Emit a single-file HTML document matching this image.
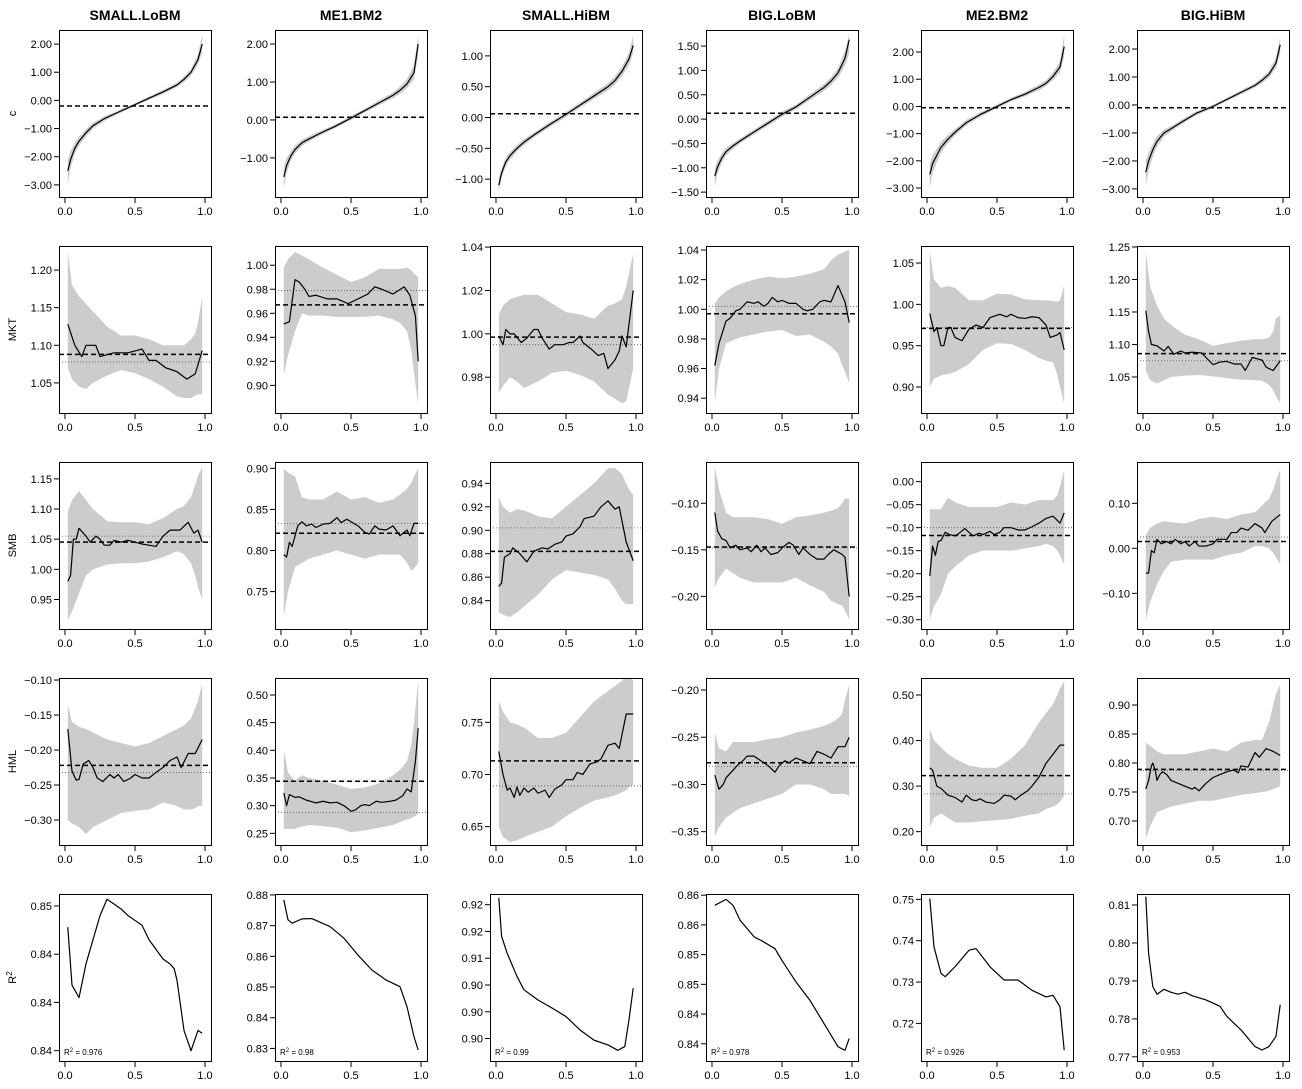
<!DOCTYPE html>
<html><head><meta charset="utf-8"><style>
html,body{margin:0;padding:0;background:#fff;}
svg{display:block;font-family:"Liberation Sans",Arial,sans-serif;}
</style></head><body>
<svg id="chart" width="1302" height="1089" viewBox="0 0 1302 1089"></svg>
<script>
const colNames = ["SMALL.LoBM","ME1.BM2","SMALL.HiBM","BIG.LoBM","ME2.BM2","BIG.HiBM"];
const rowNames = ["c","MKT","SMB","HML","R²"];
const r2Text = ["0.976","0.98","0.99","0.978","0.926","0.953"];

const yDomain = [
 [-3.43,2.50],[-2.03,2.37],[-1.29,1.42],[-1.60,1.83],[-3.33,2.81],[-3.29,2.68],
 [1.010,1.232],[0.877,1.016],[0.9635,1.0405],[0.930,1.0427],[0.8686,1.0706],[0.9946,1.2515],
 [0.901,1.178],[0.7045,0.9077],[0.8158,0.9582],[-0.235,-0.0557],[-0.3202,0.0427],[-0.1793,0.1918],
 [-0.3357,-0.0971],[0.2289,0.5307],[0.6324,0.7925],[-0.3641,-0.1873],[0.1707,0.5373],[0.6586,0.9466],
 [0.83393,0.85124],[0.8259,0.8803],[0.8908,0.922],[0.8321,0.8602],[0.7109,0.7513],[0.7689,0.8129]
];
const yTicks = [
 [2,1,0,-1,-2,-3],[2,1,0,-1],[1,0.5,0,-0.5,-1],[1.5,1,0.5,0,-0.5,-1,-1.5],[2,1,0,-1,-2,-3],[2,1,0,-1,-2,-3],
 [1.20,1.15,1.10,1.05],[1.00,0.98,0.96,0.94,0.92,0.90],[1.04,1.02,1.00,0.98],[1.04,1.02,1.00,0.98,0.96,0.94],[1.05,1.00,0.95,0.90],[1.25,1.20,1.15,1.10,1.05],
 [1.15,1.10,1.05,1.00,0.95],[0.90,0.85,0.80,0.75],[0.94,0.92,0.90,0.88,0.86,0.84],[-0.10,-0.15,-0.20],[0,-0.05,-0.10,-0.15,-0.20,-0.25,-0.30],[0.10,0,-0.10],
 [-0.10,-0.15,-0.20,-0.25,-0.30],[0.50,0.45,0.40,0.35,0.30,0.25],[0.75,0.70,0.65],[-0.20,-0.25,-0.30,-0.35],[0.50,0.40,0.30,0.20],[0.90,0.85,0.80,0.75,0.70],
 [0.85,0.845,0.84,0.835],[0.88,0.87,0.86,0.85,0.84,0.83],[0.92,0.915,0.91,0.905,0.90,0.895],[0.86,0.855,0.85,0.845,0.84,0.835],[0.75,0.74,0.73,0.72],[0.81,0.80,0.79,0.78,0.77]
];
const r2TickLabels = [
 ["0.85","0.84","0.84","0.84"],["0.88","0.87","0.86","0.85","0.84","0.83"],["0.92","0.92","0.91","0.90","0.90","0.90"],
 ["0.86","0.86","0.85","0.85","0.84","0.84"],["0.75","0.74","0.73","0.72"],["0.81","0.80","0.79","0.78","0.77"]
];
const xTicks = [0,0.5,1];
const xTickLabels = ["0.0","0.5","1.0"];

const qX = [0.02,0.04,0.07,0.1,0.15,0.2,0.28,0.38,0.5,0.6,0.7,0.8,0.85,0.9,0.95,0.98];
const bandX = [0.02,0.05,0.1,0.15,0.2,0.3,0.4,0.5,0.6,0.7,0.8,0.85,0.9,0.93,0.95,0.98];

const lineX = [
 qX,qX,qX,qX,qX,qX,
 [0.02,0.07,0.12,0.15,0.22,0.25,0.35,0.45,0.55,0.6,0.65,0.72,0.8,0.87,0.93,0.98],
 [0.02,0.06,0.1,0.13,0.17,0.2,0.25,0.33,0.4,0.48,0.55,0.62,0.67,0.72,0.8,0.88,0.92,0.96,0.98],
 [0.02,0.05,0.07,0.1,0.13,0.18,0.22,0.27,0.3,0.33,0.38,0.42,0.48,0.52,0.55,0.6,0.62,0.68,0.73,0.77,0.8,0.85,0.88,0.9,0.93,0.98],
 [0.02,0.05,0.1,0.13,0.17,0.2,0.25,0.3,0.33,0.37,0.4,0.43,0.47,0.5,0.55,0.6,0.65,0.68,0.72,0.77,0.8,0.85,0.9,0.95,0.98],
 [0.02,0.05,0.07,0.1,0.12,0.15,0.17,0.2,0.25,0.3,0.35,0.4,0.45,0.52,0.57,0.6,0.65,0.7,0.75,0.8,0.85,0.88,0.93,0.95,0.98],
 [0.02,0.04,0.06,0.1,0.15,0.18,0.22,0.27,0.3,0.35,0.42,0.45,0.5,0.55,0.6,0.65,0.7,0.73,0.78,0.85,0.88,0.93,0.98],
 [0.02,0.04,0.06,0.08,0.1,0.15,0.18,0.22,0.25,0.28,0.32,0.35,0.4,0.45,0.5,0.55,0.6,0.65,0.7,0.75,0.82,0.88,0.92,0.95,0.98],
 [0.02,0.04,0.06,0.08,0.12,0.15,0.18,0.22,0.25,0.3,0.35,0.4,0.43,0.47,0.5,0.55,0.6,0.63,0.67,0.7,0.75,0.8,0.85,0.9,0.92,0.95,0.98],
 [0.02,0.04,0.06,0.1,0.12,0.17,0.22,0.27,0.33,0.37,0.42,0.47,0.5,0.55,0.6,0.63,0.7,0.75,0.8,0.85,0.88,0.93,0.98],
 [0.02,0.04,0.07,0.1,0.13,0.17,0.2,0.25,0.28,0.32,0.35,0.38,0.42,0.47,0.5,0.55,0.58,0.62,0.65,0.7,0.75,0.8,0.83,0.87,0.93,0.95,0.98],
 [0.02,0.04,0.06,0.08,0.1,0.13,0.16,0.2,0.23,0.27,0.3,0.33,0.37,0.4,0.45,0.48,0.52,0.55,0.6,0.65,0.7,0.75,0.8,0.85,0.9,0.95,0.98],
 [0.02,0.04,0.06,0.08,0.1,0.13,0.17,0.2,0.23,0.27,0.3,0.33,0.37,0.4,0.45,0.5,0.53,0.6,0.63,0.67,0.7,0.75,0.8,0.85,0.87,0.92,0.98],
 [0.02,0.05,0.08,0.1,0.13,0.17,0.2,0.23,0.27,0.32,0.35,0.38,0.42,0.47,0.5,0.55,0.6,0.65,0.7,0.75,0.8,0.83,0.88,0.93,0.98],
 [0.02,0.04,0.06,0.1,0.13,0.18,0.25,0.3,0.35,0.4,0.45,0.5,0.53,0.57,0.6,0.63,0.68,0.72,0.78,0.82,0.87,0.9,0.93,0.96,0.98],
 [0.02,0.05,0.08,0.1,0.13,0.15,0.17,0.2,0.23,0.27,0.3,0.35,0.38,0.42,0.47,0.5,0.55,0.58,0.62,0.67,0.72,0.75,0.8,0.85,0.88,0.93,0.98],
 [0.02,0.05,0.08,0.1,0.15,0.18,0.22,0.25,0.3,0.35,0.4,0.45,0.48,0.52,0.55,0.6,0.65,0.7,0.75,0.8,0.85,0.9,0.95,0.98],
 [0.02,0.04,0.07,0.1,0.15,0.2,0.25,0.28,0.32,0.35,0.38,0.42,0.48,0.52,0.55,0.6,0.63,0.67,0.72,0.75,0.8,0.85,0.9,0.95,0.98],
 [0.02,0.04,0.06,0.07,0.09,0.1,0.12,0.14,0.17,0.2,0.25,0.3,0.35,0.37,0.4,0.45,0.5,0.55,0.6,0.65,0.68,0.7,0.75,0.8,0.83,0.88,0.93,0.98],
 [0.02,0.05,0.1,0.15,0.2,0.25,0.3,0.35,0.4,0.45,0.5,0.55,0.6,0.65,0.7,0.75,0.78,0.8,0.85,0.9,0.95,0.98],
 [0.02,0.05,0.08,0.15,0.22,0.35,0.45,0.55,0.65,0.75,0.85,0.9,0.95,0.98],
 [0.02,0.04,0.08,0.15,0.2,0.3,0.4,0.5,0.6,0.7,0.8,0.87,0.92,0.95,0.98],
 [0.02,0.1,0.15,0.2,0.3,0.35,0.45,0.5,0.6,0.7,0.8,0.9,0.95,0.98],
 [0.02,0.05,0.1,0.13,0.2,0.3,0.35,0.45,0.55,0.65,0.75,0.85,0.9,0.95,0.98],
 [0.02,0.04,0.07,0.1,0.15,0.2,0.25,0.3,0.35,0.45,0.55,0.6,0.7,0.8,0.85,0.9,0.95,0.98]
];
const lineY = [
 [-2.5,-2.1,-1.7,-1.45,-1.15,-0.9,-0.65,-0.42,-0.15,0.08,0.3,0.55,0.75,1.0,1.45,2.0],
 [-1.5,-1.2,-0.95,-0.78,-0.6,-0.5,-0.35,-0.18,0.05,0.25,0.45,0.65,0.78,0.95,1.25,2.0],
 [-1.1,-0.9,-0.72,-0.62,-0.5,-0.4,-0.27,-0.12,0.05,0.2,0.35,0.5,0.6,0.75,0.95,1.17],
 [-1.17,-0.98,-0.8,-0.67,-0.55,-0.45,-0.3,-0.12,0.1,0.25,0.45,0.65,0.78,0.95,1.25,1.63],
 [-2.5,-2.1,-1.8,-1.5,-1.2,-0.95,-0.6,-0.3,0.0,0.25,0.45,0.7,0.85,1.1,1.45,2.2],
 [-2.4,-2.0,-1.6,-1.3,-1.0,-0.85,-0.6,-0.3,-0.05,0.2,0.45,0.7,0.88,1.1,1.5,2.15],
 [1.128,1.10,1.085,1.10,1.10,1.085,1.09,1.09,1.095,1.08,1.08,1.07,1.065,1.055,1.062,1.093],
 [0.951,0.953,0.988,0.986,0.98,0.974,0.975,0.972,0.972,0.968,0.972,0.976,0.982,0.98,0.976,0.982,0.975,0.958,0.92],
 [0.999,0.995,1.002,1.0,1.0,0.996,0.998,1.002,1.002,0.998,0.993,0.995,0.995,0.996,0.996,0.999,0.996,0.993,0.99,0.991,0.984,0.988,0.992,0.999,0.994,1.02],
 [0.962,0.977,0.992,0.994,0.999,1.0,1.005,1.004,1.005,1.002,1.004,1.008,1.005,1.006,1.004,1.004,1.0,0.999,1.0,1.005,1.006,1.005,1.016,1.005,0.991],
 [0.989,0.967,0.972,0.95,0.95,0.972,0.972,0.96,0.956,0.97,0.975,0.972,0.984,0.988,0.985,0.988,0.984,0.983,0.985,0.984,0.975,0.96,0.963,0.966,0.945],
 [1.152,1.12,1.10,1.098,1.09,1.097,1.085,1.09,1.087,1.088,1.087,1.08,1.069,1.073,1.074,1.07,1.07,1.06,1.08,1.076,1.065,1.06,1.075],
 [0.98,0.99,1.05,1.05,1.068,1.055,1.045,1.055,1.05,1.04,1.04,1.048,1.045,1.048,1.045,1.042,1.04,1.038,1.055,1.065,1.065,1.078,1.06,1.065,1.045],
 [0.795,0.792,0.81,0.805,0.83,0.835,0.83,0.832,0.828,0.832,0.833,0.84,0.834,0.838,0.835,0.83,0.822,0.82,0.83,0.826,0.825,0.83,0.818,0.825,0.818,0.833,0.833],
 [0.852,0.855,0.877,0.88,0.885,0.88,0.873,0.882,0.885,0.884,0.888,0.89,0.895,0.897,0.903,0.91,0.912,0.92,0.925,0.918,0.92,0.89,0.874],
 [-0.11,-0.13,-0.138,-0.14,-0.148,-0.145,-0.15,-0.148,-0.152,-0.145,-0.152,-0.148,-0.155,-0.153,-0.148,-0.142,-0.145,-0.155,-0.148,-0.155,-0.16,-0.16,-0.155,-0.15,-0.155,-0.158,-0.20],
 [-0.205,-0.14,-0.16,-0.13,-0.128,-0.11,-0.115,-0.118,-0.112,-0.102,-0.11,-0.118,-0.112,-0.115,-0.108,-0.115,-0.11,-0.1,-0.1,-0.105,-0.105,-0.098,-0.09,-0.08,-0.075,-0.09,-0.068],
 [-0.055,-0.055,-0.005,-0.01,0.02,0.01,0.015,0.01,0.02,0.01,0.015,0.005,0.015,0.005,0.005,0.01,0.02,0.02,0.035,0.035,0.045,0.04,0.055,0.045,0.035,0.06,0.075],
 [-0.17,-0.23,-0.243,-0.242,-0.22,-0.215,-0.225,-0.24,-0.245,-0.235,-0.24,-0.235,-0.245,-0.24,-0.235,-0.24,-0.24,-0.232,-0.225,-0.215,-0.21,-0.225,-0.205,-0.205,-0.185],
 [0.323,0.30,0.32,0.315,0.316,0.31,0.305,0.308,0.305,0.306,0.30,0.29,0.292,0.30,0.302,0.30,0.308,0.306,0.308,0.31,0.318,0.33,0.325,0.38,0.44],
 [0.722,0.70,0.685,0.687,0.678,0.688,0.68,0.687,0.683,0.687,0.682,0.685,0.678,0.686,0.69,0.695,0.695,0.702,0.70,0.71,0.712,0.715,0.728,0.73,0.725,0.758,0.758],
 [-0.29,-0.305,-0.30,-0.293,-0.285,-0.28,-0.275,-0.27,-0.27,-0.275,-0.28,-0.287,-0.28,-0.275,-0.277,-0.272,-0.275,-0.278,-0.265,-0.268,-0.272,-0.26,-0.26,-0.25],
 [0.34,0.335,0.30,0.295,0.28,0.275,0.265,0.28,0.27,0.268,0.272,0.265,0.262,0.27,0.28,0.278,0.27,0.28,0.29,0.30,0.32,0.35,0.37,0.39,0.39],
 [0.755,0.77,0.795,0.80,0.785,0.77,0.78,0.785,0.78,0.77,0.765,0.76,0.755,0.758,0.752,0.765,0.775,0.78,0.785,0.788,0.783,0.795,0.793,0.818,0.81,0.825,0.82,0.813],
 [0.8478,0.8418,0.8405,0.8440,0.8465,0.8490,0.8507,0.8502,0.8497,0.8490,0.8485,0.8480,0.8465,0.8455,0.8445,0.8440,0.8435,0.8423,0.8371,0.8350,0.8371,0.8368],
 [0.8784,0.8719,0.8708,0.8722,0.8723,0.8697,0.8659,0.8604,0.8555,0.8523,0.8501,0.8436,0.8338,0.8295],
 [0.9213,0.9141,0.9109,0.9066,0.9041,0.9022,0.9007,0.8991,0.8966,0.8947,0.8938,0.8928,0.8935,0.8985,0.9044],
 [0.8583,0.8593,0.8583,0.8558,0.853,0.8524,0.851,0.849,0.8454,0.8423,0.8384,0.8345,0.8339,0.8359],
 [0.7502,0.7385,0.7321,0.7313,0.7337,0.7377,0.7381,0.7337,0.7305,0.7305,0.7280,0.7264,0.7268,0.7240,0.7135],
 [0.8122,0.7973,0.7885,0.7865,0.7878,0.7870,0.7865,0.7870,0.7861,0.7850,0.7833,0.7806,0.7771,0.7727,0.7718,0.7727,0.7754,0.7837]
];
const bandLo = [
 [-3.0,-2.4,-1.9,-1.6,-1.28,-1.0,-0.73,-0.48,-0.2,0.02,0.23,0.47,0.65,0.88,1.28,1.7],
 [-1.8,-1.4,-1.08,-0.88,-0.68,-0.57,-0.41,-0.23,0.0,0.2,0.39,0.57,0.69,0.84,1.08,1.7],
 [-1.2,-0.98,-0.79,-0.68,-0.55,-0.45,-0.31,-0.16,0.01,0.16,0.3,0.44,0.53,0.67,0.85,1.05],
 [-1.38,-1.12,-0.9,-0.75,-0.61,-0.5,-0.35,-0.17,0.05,0.2,0.39,0.58,0.7,0.85,1.1,1.35],
 [-3.0,-2.45,-2.05,-1.7,-1.35,-1.07,-0.7,-0.38,-0.07,0.18,0.37,0.6,0.74,0.97,1.25,1.85],
 [-2.9,-2.35,-1.85,-1.5,-1.13,-0.95,-0.68,-0.37,-0.11,0.14,0.38,0.62,0.78,0.98,1.32,1.85],
 [1.07,1.055,1.045,1.042,1.05,1.06,1.067,1.063,1.055,1.045,1.032,1.03,1.03,1.033,1.035,1.035],
 [0.909,0.925,0.945,0.96,0.958,0.958,0.957,0.957,0.957,0.958,0.955,0.952,0.945,0.93,0.91,0.885],
 [0.973,0.976,0.98,0.978,0.975,0.978,0.982,0.983,0.981,0.978,0.972,0.97,0.968,0.969,0.975,0.984],
 [0.937,0.96,0.977,0.979,0.981,0.983,0.985,0.986,0.982,0.983,0.978,0.975,0.97,0.962,0.958,0.950],
 [0.90,0.91,0.914,0.916,0.918,0.928,0.945,0.953,0.952,0.945,0.935,0.932,0.93,0.915,0.90,0.88],
 [1.06,1.045,1.04,1.045,1.05,1.052,1.053,1.051,1.048,1.046,1.045,1.044,1.038,1.03,1.02,1.01],
 [0.915,0.93,0.96,0.99,1.0,1.008,1.01,1.01,1.013,1.02,1.03,1.025,1.01,0.99,0.97,0.95],
 [0.72,0.75,0.78,0.785,0.79,0.795,0.80,0.795,0.79,0.795,0.795,0.795,0.785,0.775,0.778,0.785],
 [0.83,0.828,0.826,0.83,0.835,0.845,0.858,0.866,0.864,0.862,0.858,0.85,0.84,0.837,0.837,0.837],
 [-0.19,-0.18,-0.17,-0.175,-0.18,-0.185,-0.185,-0.185,-0.18,-0.188,-0.195,-0.205,-0.208,-0.21,-0.215,-0.225],
 [-0.30,-0.27,-0.245,-0.20,-0.185,-0.16,-0.15,-0.15,-0.15,-0.145,-0.14,-0.135,-0.14,-0.15,-0.16,-0.18],
 [-0.16,-0.12,-0.08,-0.05,-0.03,-0.025,-0.025,-0.025,-0.015,-0.01,0.005,0.005,0,-0.01,-0.02,-0.035],
 [-0.30,-0.305,-0.31,-0.32,-0.31,-0.30,-0.29,-0.287,-0.285,-0.275,-0.28,-0.285,-0.285,-0.283,-0.28,-0.28],
 [0.258,0.258,0.258,0.262,0.265,0.263,0.26,0.252,0.255,0.26,0.265,0.27,0.275,0.277,0.28,0.285],
 [0.65,0.64,0.635,0.637,0.64,0.645,0.65,0.66,0.668,0.675,0.678,0.68,0.683,0.685,0.688,0.69],
 [-0.355,-0.345,-0.335,-0.33,-0.325,-0.32,-0.315,-0.31,-0.30,-0.30,-0.305,-0.31,-0.31,-0.31,-0.31,-0.312],
 [0.21,0.23,0.24,0.23,0.22,0.22,0.223,0.225,0.228,0.235,0.24,0.25,0.255,0.26,0.265,0.28],
 [0.67,0.69,0.715,0.72,0.725,0.73,0.735,0.735,0.74,0.745,0.748,0.75,0.752,0.755,0.757,0.76]
];
const bandHi = [
 [-2.1,-1.8,-1.5,-1.3,-1.02,-0.8,-0.57,-0.36,-0.1,0.14,0.37,0.63,0.85,1.12,1.62,2.35],
 [-1.25,-1.0,-0.82,-0.68,-0.52,-0.43,-0.29,-0.13,0.1,0.3,0.51,0.73,0.88,1.08,1.45,2.25],
 [-0.98,-0.82,-0.65,-0.56,-0.45,-0.35,-0.23,-0.08,0.09,0.24,0.4,0.56,0.67,0.83,1.05,1.33],
 [-1.0,-0.85,-0.7,-0.59,-0.49,-0.4,-0.25,-0.07,0.15,0.3,0.51,0.72,0.86,1.05,1.4,1.75],
 [-2.1,-1.8,-1.55,-1.3,-1.05,-0.83,-0.5,-0.22,0.07,0.32,0.53,0.8,0.96,1.25,1.65,2.65],
 [-2.0,-1.7,-1.38,-1.12,-0.88,-0.75,-0.52,-0.23,0.01,0.26,0.52,0.78,0.98,1.22,1.7,2.45],
 [1.225,1.18,1.165,1.155,1.145,1.125,1.113,1.113,1.108,1.10,1.10,1.10,1.108,1.115,1.13,1.165],
 [0.998,1.005,1.011,1.008,1.005,0.998,0.992,0.986,0.99,0.997,0.997,0.997,0.998,0.996,0.993,0.99],
 [1.009,1.013,1.016,1.017,1.018,1.018,1.014,1.01,1.009,1.007,1.013,1.014,1.016,1.022,1.028,1.037],
 [1.004,1.008,1.012,1.015,1.017,1.02,1.022,1.021,1.022,1.024,1.027,1.033,1.037,1.038,1.039,1.040],
 [1.065,1.03,1.02,1.022,1.02,1.005,1.005,1.013,1.012,1.006,1.005,1.005,1.004,1.003,1.005,1.023],
 [1.243,1.19,1.16,1.14,1.13,1.115,1.108,1.098,1.102,1.106,1.108,1.108,1.11,1.12,1.14,1.145],
 [1.095,1.115,1.13,1.115,1.10,1.08,1.078,1.078,1.075,1.085,1.10,1.105,1.12,1.14,1.155,1.17],
 [0.90,0.895,0.89,0.865,0.862,0.862,0.872,0.862,0.865,0.858,0.862,0.868,0.875,0.882,0.89,0.90],
 [0.928,0.92,0.915,0.918,0.917,0.912,0.91,0.92,0.93,0.94,0.953,0.953,0.948,0.94,0.935,0.93],
 [-0.06,-0.085,-0.11,-0.115,-0.115,-0.115,-0.117,-0.122,-0.115,-0.113,-0.11,-0.108,-0.105,-0.10,-0.095,-0.095],
 [-0.06,-0.06,-0.06,-0.035,-0.045,-0.055,-0.055,-0.055,-0.045,-0.05,-0.04,-0.04,-0.04,-0.03,-0.01,0.025],
 [0.03,0.045,0.055,0.06,0.058,0.055,0.065,0.07,0.065,0.075,0.08,0.095,0.11,0.13,0.15,0.175],
 [-0.135,-0.16,-0.167,-0.17,-0.175,-0.185,-0.19,-0.195,-0.19,-0.18,-0.17,-0.165,-0.155,-0.14,-0.13,-0.105],
 [0.40,0.36,0.345,0.355,0.35,0.345,0.338,0.33,0.333,0.34,0.355,0.365,0.38,0.41,0.45,0.525],
 [0.77,0.76,0.75,0.748,0.745,0.735,0.735,0.74,0.755,0.77,0.78,0.785,0.79,0.795,0.795,0.79],
 [-0.245,-0.262,-0.265,-0.255,-0.255,-0.255,-0.252,-0.25,-0.245,-0.242,-0.238,-0.235,-0.23,-0.225,-0.21,-0.195],
 [0.425,0.40,0.385,0.37,0.36,0.345,0.34,0.34,0.36,0.39,0.44,0.46,0.48,0.50,0.515,0.53],
 [0.835,0.83,0.82,0.815,0.815,0.815,0.82,0.825,0.82,0.835,0.84,0.84,0.87,0.90,0.92,0.935]
];
const dashVals = [-0.2,0.07,0.06,0.12,-0.05,-0.1, 1.088,0.967,0.9985,0.997,0.971,1.086, 1.045,0.821,0.882,-0.147,-0.117,0.015, -0.222,0.344,0.713,-0.277,0.323,0.789];
const dotVals = [null,null,null,null,null,null, 1.078,0.979,0.995,1.002,0.972,1.075, 1.055,0.833,0.902,-0.148,-0.10,0.025, -0.232,0.288,0.689,-0.281,0.283,0.787];

const colLeft = [59,275,490,706,921,1137];
const rowTop = [30,246,462,678,894];
const W = 152, H = 167;
const NS = "http://www.w3.org/2000/svg";
const svg = document.getElementById('chart');
function mk(tag, attrs, parent){
  const e = document.createElementNS(NS, tag);
  for (const k in attrs) e.setAttribute(k, attrs[k]);
  (parent||svg).appendChild(e);
  return e;
}
function fmt(v){ const s = Math.abs(v).toFixed(2); return (v < -1e-9 ? "\u2212" : "") + s; }

const defs = mk('defs', {});
colNames.forEach((name, c) => {
  const t = mk('text', {x: colLeft[c] + W/2, y: 20, 'text-anchor': 'middle', 'font-size': 14, 'font-weight': 'bold'});
  
  
  t.textContent = name;
});
rowNames.forEach((name, r) => {
  const cy = rowTop[r] + H/2;
  const t = mk('text', {x: 16, y: cy, 'text-anchor': 'middle', 'font-size': 11, transform: 'rotate(-90 16 ' + cy + ')'});
  
  
  if (r === 4) { t.textContent = 'R'; const s = mk('tspan', {dy: -4, 'font-size': 8}, t); s.textContent = '2'; }
  else t.textContent = name;
});

for (let r = 0; r < 5; r++) for (let c = 0; c < 6; c++) {
  const i = r*6 + c;
  const L = colLeft[c], T = rowTop[r], B = T + H;
  const d0 = yDomain[i][0], d1 = yDomain[i][1];
  const sx = v => L + 6 + v*140;
  const sy = v => B - (v - d0)/(d1 - d0)*H;
  const g = mk('g', {});
  
  
  const cp = mk('clipPath', {id: 'cp' + i}, defs);
  mk('rect', {x: L, y: T, width: W, height: H}, cp);
  const inner = mk('g', {'clip-path': 'url(#cp' + i + ')'}, g);
  if (r < 4) {
    const bx = r === 0 ? qX : bandX;
    let pts = bx.map((x, k) => sx(x) + ',' + sy(bandHi[i][k]));
    for (let k = bx.length - 1; k >= 0; k--) pts.push(sx(bx[k]) + ',' + sy(bandLo[i][k]));
    const band = mk('polygon', {points: pts.join(' '), fill: '#cccccc', stroke: 'none'}, inner);
    
    
    if (dotVals[i] !== null) {
      const dl = mk('line', {x1: L, x2: L + W, y1: sy(dotVals[i]), y2: sy(dotVals[i]), stroke: '#555', 'stroke-width': 0.8, 'stroke-dasharray': '1,2'}, inner);
      
      
    }
    const ds = mk('line', {x1: L, x2: L + W, y1: sy(dashVals[i]), y2: sy(dashVals[i]), stroke: '#000', 'stroke-width': 1.5, 'stroke-dasharray': '5,3'}, inner);
    
    
  }
  const path = mk('polyline', {points: lineX[i].map((x, k) => sx(x) + ',' + sy(lineY[i][k])).join(' '), fill: 'none', stroke: '#000', 'stroke-width': 1.2, 'stroke-linejoin': 'round'}, inner);
  
  
  const box = mk('rect', {x: L + 0.5, y: T + 0.5, width: W, height: H, fill: 'none', stroke: '#000', 'stroke-width': 1}, g);
  
  
  yTicks[i].forEach((v, k) => {
    const y = sy(v);
    mk('line', {x1: L - 5, x2: L, y1: y, y2: y, stroke: '#000', 'stroke-width': 1}, g);
    const t = mk('text', {x: L - 7, y: y + 4, 'text-anchor': 'end', 'font-size': 11}, g);
    
    
    t.textContent = r === 4 ? r2TickLabels[c][k] : fmt(v);
  });
  xTicks.forEach((v, k) => {
    const x = sx(v);
    mk('line', {x1: x, x2: x, y1: B + 1, y2: B + 6, stroke: '#000', 'stroke-width': 1}, g);
    const t = mk('text', {x: x, y: B + 18, 'text-anchor': 'middle', 'font-size': 11}, g);
    
    
    t.textContent = xTickLabels[k];
  });
  if (r === 4) {
    const t = mk('text', {x: L + 5, y: B - 6, 'font-size': 8}, g);
    
    
    t.textContent = 'R';
    const s = mk('tspan', {dy: -3, 'font-size': 6}, t); s.textContent = '2';
    const s2 = mk('tspan', {dy: 3}, t); s2.textContent = ' = ' + r2Text[c];
  }
}
</script>
</body></html>
